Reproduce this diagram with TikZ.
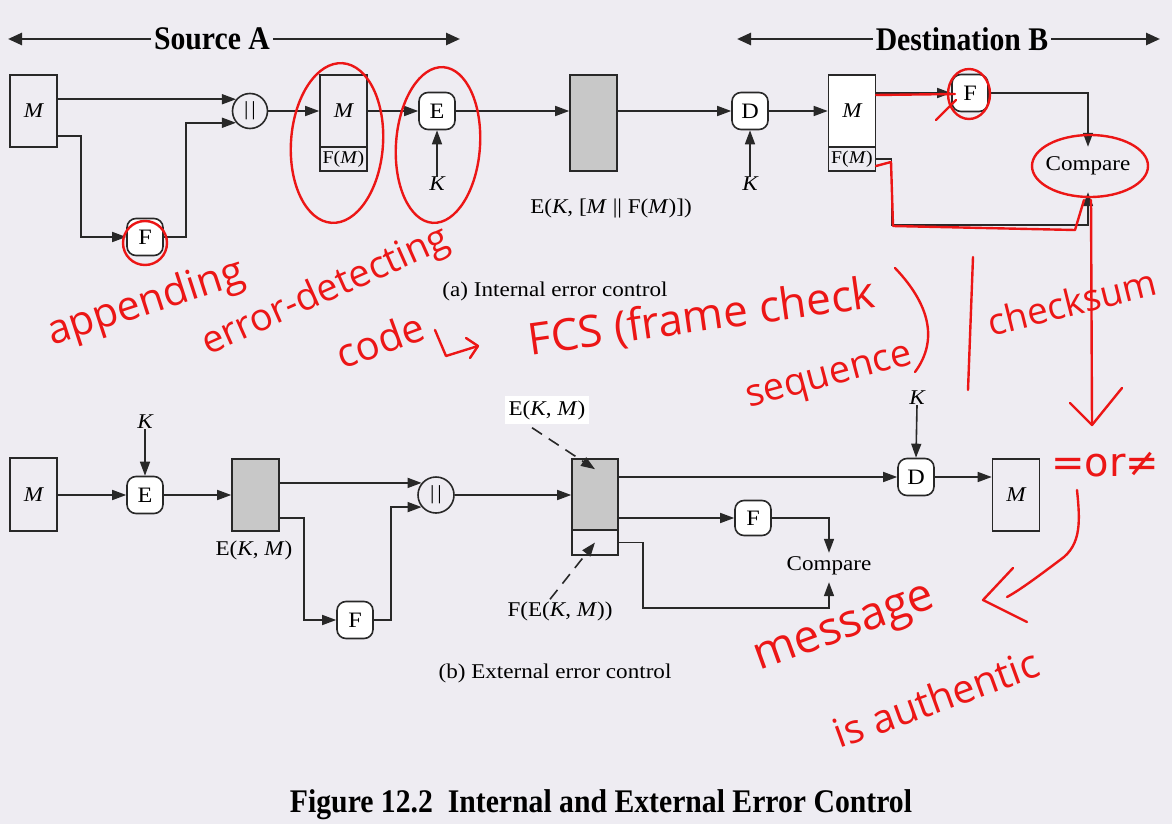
\documentclass[tikz,border=0pt]{standalone}
\usepackage{fontspec}
\setmainfont[FakeStretch=1.1]{Liberation Serif}
\newfontfamily\hdfont[FakeStretch=0.9]{Liberation Serif}
\newfontfamily\hand{Open Sans}
\newfontfamily\handsym{DejaVu Sans}
\usetikzlibrary{arrows.meta,calc,shapes.geometric}
\definecolor{bgc}{RGB}{238,236,242}
\definecolor{ink}{RGB}{40,40,40}
\definecolor{shade}{RGB}{200,200,200}
\definecolor{redink}{RGB}{236,22,22}
\tikzset{
  ln/.style={draw=ink, line width=1.6pt},
  arr/.style={draw=ink, line width=1.6pt, -{Triangle[length=14pt,width=10pt]}},
  dasharr/.style={draw=ink, line width=1.6pt, dash pattern=on 12pt off 8pt, -{Triangle[length=14pt,width=10pt]}},
  hdarr/.style={draw=ink, line width=2.6pt, -{Triangle[length=14pt,width=12pt]}},
  hd/.style={font=\hdfont\bfseries\fontsize{33}{36}\selectfont, inner sep=3pt},
  box/.style={draw=ink, line width=1.6pt, minimum width=47pt, inner sep=0pt, font=\fontsize{21}{24}\selectfont},
  rbox/.style={draw=ink, fill=white, line width=1.6pt, rounded corners=9pt, minimum width=36pt, minimum height=37pt, inner sep=0pt, font=\fontsize{22}{24}\selectfont},
  catn/.style={draw=ink, line width=1.6pt, circle, minimum size=35pt, inner sep=0pt, font=\fontsize{20}{20}\selectfont},
  txt/.style={font=\fontsize{21}{24}\selectfont, inner sep=0pt},
  redline/.style={draw=redink, line width=2.4pt, line cap=round, line join=round},
  handtxt/.style={text=redink, font=\hand\fontsize{38}{40}\selectfont, inner sep=0pt},
}
\begin{document}
\begin{tikzpicture}[x=1pt,y=-1pt]
\fill[bgc] (0,0) rectangle (1172,824);
\useasboundingbox (0,0) rectangle (1172,824);

% ---------- header ----------
\node[hd] (src) at (212,39) {Source A};
\coordinate (srcL) at (8,39);
\coordinate (srcR) at (460,39);
\draw[hdarr] (src.west) -- (srcL);
\draw[hdarr] (src.east) -- (srcR);
\node[hd] (dst) at (962,39) {Destination B};
\coordinate (dstL) at (737,39);
\coordinate (dstR) at (1160,39);
\draw[hdarr] (dst.west) -- (dstL);
\draw[hdarr] (dst.east) -- (dstR);

% ---------- (a) internal error control ----------
\node[box, minimum height=72pt] (mA) at (33.5,111) {\itshape M};
\node[catn] (orA) at (250,111) {|\kern3pt|};
\node[rbox] (fA) at (145,237) {F};
\node[box, minimum height=72pt] (mfAt) at (343.5,111) {\itshape M};
\node[box, minimum height=24pt, font=\fontsize{18}{20}\selectfont] (mfAb) at (343.5,159) {F(\textit{M})};
\node[rbox] (eA) at (437,111) {E};
\node[txt] (kA) at (437,184) {\itshape K};
\node[box, fill=shade, minimum height=96pt] (gA) at (593.5,123) {};
\node[txt] (gAl) at (611,208) {E(\textit{K}, [\textit{M} || F(\textit{M})])};
\node[rbox] (dA) at (750,111) {D};
\node[txt] (kA2) at (750,184) {\itshape K};
\node[box, fill=white, minimum height=72pt] (mfBt) at (852,111) {\itshape M};
\node[box, minimum height=24pt, font=\fontsize{18}{20}\selectfont] (mfBb) at (852,159) {F(\textit{M})};
\node[rbox] (fB) at (970,93) {F};
\node[txt, anchor=base, text height=23pt, text depth=22pt] (cmpA) at (1088,170) {Compare};
\coordinate (cA) at (1088,225);

\draw[arr] (mA.east |- orA.140) -- (orA.140);
\draw[arr] (mA.east |- 0,136) -- ++(23,0) |- (fA.west);
\draw[arr] (fA.east) -- ++(22,0) |- (orA.220);
\draw[arr] (orA.east) -- (mfAt.west);
\draw[arr] (mfAt.east) -- (eA.west);
\draw[arr] (kA.north) -- (eA.south);
\draw[arr] (eA.east) -- (eA.east -| gA.west);
\draw[arr] (gA.east |- dA.west) -- (dA.west);
\draw[arr] (kA2.north) -- (dA.south);
\draw[arr] (dA.east) -- (mfBt.west);
\draw[arr] (mfBt.east |- fB.west) -- (fB.west);
\draw[arr] (fB.east) -| (cmpA.north);
\draw[arr] (mfBb.east) -- ++(15,0) |- (cA) -- (cmpA.south);

\node[txt] (capA) at (555,291) {(a) Internal error control};

% ---------- (b) external error control ----------
\node[box, minimum height=73pt] (mB) at (33.5,494.5) {\itshape M};
\node[rbox] (eB) at (145,495) {E};
\node[txt] (kB) at (145,422) {\itshape K};
\node[box, fill=shade, minimum height=72pt] (gB) at (255.5,495) {};
\node[txt] (gBl) at (254,550) {E(\textit{K}, \textit{M})};
\node[catn, minimum size=36pt] (orB) at (436,495) {|\kern3pt|};
\node[rbox] (fC) at (355,620) {F};
\node[box, fill=shade, minimum width=46pt, minimum height=71pt] (bt) at (595,494.5) {};
\node[box, minimum width=46pt, minimum height=25pt] (bb) at (595,542.5) {};
\node[rbox] (dB) at (916,477) {D};
\node[txt] (kC) at (917,398) {\itshape K};
\node[box, minimum height=72pt] (mC) at (1016,495) {\itshape M};
\node[rbox, minimum height=35pt] (fD) at (753,518) {F};
\node[txt, anchor=base, text height=17pt, text depth=12pt] (cmpB) at (829,570) {Compare};
\coordinate (cB) at (829,608);
\node[txt, fill=white, inner sep=4pt] (lblE) at (547,410) {E(\textit{K}, \textit{M})};
\node[txt] (lblF) at (560,611) {F(E(\textit{K}, \textit{M}))};

\draw[arr] (mB.east |- eB.west) -- (eB.west);
\draw[arr] (kB.south) -- (eB.north);
\draw[arr] (eB.east) -- (gB.west);
\draw[arr] (gB.east |- orB.140) -- (orB.140);
\draw[arr] (gB.east |- 0,518) -- ++(24,0) |- (fC.west);
\draw[arr] (fC.east) -- ++(17,0) |- (orB.220);
\draw[arr] (orB.east) -- (bt.west |- orB.east);
\draw[arr] (bt.east |- dB.west) -- (dB.west);
\draw[arr] (kC.south) -- (dB.north);
\draw[arr] (dB.east) -- (mC.west |- dB.east);
\draw[arr] (bt.east |- fD.west) -- (fD.west);
\draw[arr] (fD.east) -| (cmpB.north);
\draw[arr] (bb.east) -- ++(24,0) |- (cB) -- (cmpB.south);
\draw[dasharr] ($(lblE.south)+(-15,4)$) -- ($(bt.north)+(0,11)$);
\draw[dasharr] ($(lblF.north)+(-10,-2)$) -- (bb.center);

\node[txt] (capB) at (555,673) {(b) External error control};

% ---------- caption ----------
\node[hd] (fig) at (601,805) {Figure 12.2\ \ Internal and External Error Control};

% ---------- red handwritten annotations ----------
\draw[redline, rotate around={-4:(337,143)}] (337,143) ellipse [x radius=46, y radius=80];
\draw[redline, rotate around={-4:(438,145)}] (438,145) ellipse [x radius=42, y radius=78];
\draw[redline] (145,243) circle [radius=22];
\draw[redline] (969,94) ellipse [x radius=21, y radius=25];
\draw[redline] (1090,166) ellipse [x radius=58, y radius=31];
\draw[redline] (876,95) -- (955,94);
\draw[redline] (936,120) -- (956,100);
\draw[redline] (876,166) -- (891,162) -- (893,226) -- (1075,230) -- (1084,200);
\draw[redline] (1091,200) -- (1092,425);
\draw[redline] (1070,403) -- (1092,425) -- (1122,388);
\draw[redline] (973,257) -- (968,390);
\draw[redline] (895,268) .. controls (935,310) and (935,345) .. (915,372);
\draw[redline] (435,330) -- (446,356) -- (478,346);
\draw[redline] (466,338) -- (478,346) -- (470,358);
\draw[redline] (1077,490) .. controls (1080,520) and (1082,545) .. (1060,560) .. controls (1040,575) and (1020,590) .. (1007,597);
\draw[redline] (1013,568) -- (983,600) -- (1027,622);

\node[handtxt, rotate=18, font=\hand\fontsize{41}{44}\selectfont] (h1) at (146,304) {appending};
\node[handtxt, rotate=24, font=\hand\fontsize{38}{40}\selectfont] (h2) at (326,292) {error-detecting};
\node[handtxt, rotate=20, font=\hand\fontsize{40}{44}\selectfont] (h3) at (380,340) {code};
\node[handtxt, rotate=8, font=\hand\fontsize{44}{48}\selectfont] (h4) at (702,318) {FCS (frame check};
\node[handtxt, rotate=15] (h5) at (830,380) {sequence};
\node[handtxt, rotate=14, font=\hand\fontsize{37}{40}\selectfont] (h6) at (1072,302) {checksum};
\node[handtxt, font=\handsym\fontsize{40}{44}\selectfont] (h7) at (1105,465) {=or≠};
\node[handtxt, rotate=20, font=\hand\fontsize{46}{50}\selectfont] (h8) at (846,632) {message};
\node[handtxt, rotate=20, font=\hand\fontsize{40}{44}\selectfont] (h9) at (936,698) {is authentic};
\end{tikzpicture}
\end{document}
